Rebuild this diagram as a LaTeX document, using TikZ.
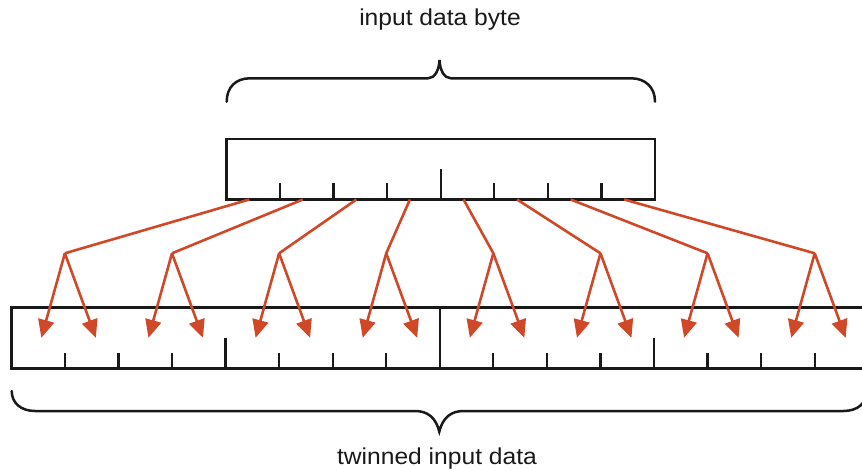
\documentclass[tikz,border=0pt]{standalone}
\usepackage{fontspec}
\setmainfont{Liberation Sans}
\usetikzlibrary{arrows.meta,calc}
\definecolor{wire}{RGB}{207,72,40}
\definecolor{ink}{RGB}{25,25,25}
\tikzset{
  frame/.style={draw=ink, line width=2.5pt, inner sep=0pt, outer sep=0pt, anchor=north west},
  tick/.style={draw=ink, line width=2.3pt},
  brace/.style={draw=ink, line width=2.5pt, line cap=round},
  feed/.style={draw=wire, line width=2.6pt, line join=round},
  fan/.style={feed, -{Triangle[length=18pt, width=16pt]}},
  caption/.style={font=\fontsize{23}{27}\selectfont, text=ink, anchor=base, inner sep=0pt},
}
\begin{document}
\begin{tikzpicture}[x=1pt, y=-1pt]
\useasboundingbox (0,0) rectangle (862,470);
\clip (0,0) rectangle (862,470);

% cell width shared by both registers
\pgfmathsetmacro{\cw}{53.56}

% input byte register (8 cells)
\node[frame, minimum width=428.5pt, minimum height=60.5pt] (byte) at (226.5,139) {};
\foreach \k in {1,2,3,5,6,7}
  \draw[tick] (226.5+\k*\cw,199.5) -- ++(0,-16);
\draw[tick] (226.5+4*\cw,199.5) -- ++(0,-30.5);

% twinned register (16 cells, runs past the right edge)
\node[frame, minimum width=857pt, minimum height=60.6pt] (twin) at (11.3,307.7) {};
\foreach \k in {1,2,3,5,6,7,9,10,11,13,14,15}
  \draw[tick] (11.3+\k*\cw,368.3) -- ++(0,-15);
\foreach \k in {4,12}
  \draw[tick] (11.3+\k*\cw,368.3) -- ++(0,-30.6);
\draw[tick] (11.3+8*\cw,368.3) -- (11.3+8*\cw,307.7);

% fan-out: each input bit feeds two adjacent output cells
\foreach \i in {0,...,7} {
  \coordinate (src\i) at (226.5+\i*\cw+0.5*\cw-4,199.5);
  \coordinate (split\i) at (11.3+2*\i*\cw+\cw,253.3);
  \coordinate (lo\i) at ($(split\i)+(-23.5,84.5)$);
  \coordinate (hi\i) at ($(split\i)+(31,84.5)$);
}
\foreach \i in {0,...,7} {
  \draw[feed] (src\i) -- (split\i);
  \draw[fan] (split\i) -- (lo\i);
  \draw[fan] (split\i) -- (hi\i);
}

% brace over the input byte
\draw[brace] (226.7,101.7) .. controls (226.7,87) and (236,78.3) .. (250,78.3)
  -- (428,78.3) .. controls (435,78.3) and (439,70) .. (439.5,60)
  .. controls (440,70) and (444,78.3) .. (451,78.3)
  -- (631,78.3) .. controls (645,78.3) and (655,87) .. (655,101.7);
\node[caption] (top) at (440,25.7) {\scalebox{1.07}[1]{input data byte}};

% brace under the twinned data
\draw[brace] (11.7,391) .. controls (11.7,403) and (21,411) .. (35,411)
  -- (415,411) .. controls (428,411) and (436,418) .. (439.3,431.7)
  .. controls (442.6,418) and (450.6,411) .. (463.6,411)
  -- (843.6,411) .. controls (857.6,411) and (866.9,403) .. (866.9,391);
\node[caption] (bottom) at (437,464.5) {\scalebox{1.07}[1]{twinned input data}};
\end{tikzpicture}
\end{document}
